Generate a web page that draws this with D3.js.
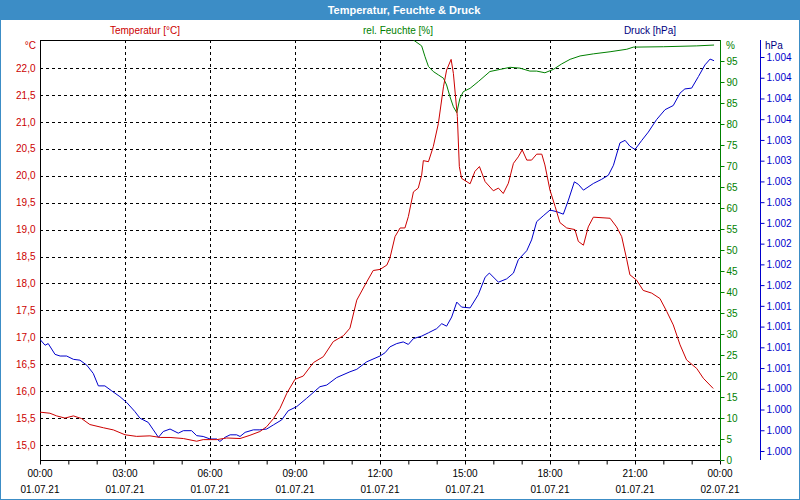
<html>
<head>
<meta charset="utf-8">
<script src="https://d3js.org/d3.v7.min.js"></script>
<style>
  body { margin: 0; background: #fff; }
  svg text { font-family: "Liberation Sans", Arial, sans-serif; font-size: 10px; }
</style>
</head>
<body>
<svg width="800" height="500"></svg>
<script>
// ---- data (hours since 01.07.21 00:00) ----
var tempHours = [0,0.35,0.59,0.88,1.18,1.47,1.76,2.24,2.59,3.00,3.41,3.88,4.24,4.59,5.06,5.53,5.76,6.24,6.59,7.06,7.41,7.76,8.00,8.24,8.47,8.71,9.00,9.29,9.65,10.00,10.35,10.71,10.94,11.18,11.47,11.76,12.00,
  12.24,12.35,12.53,12.71,12.88,13.00,13.18,13.35,13.47,13.53,13.71,13.88,14.06,14.24,14.35,14.51,14.59,14.73,14.80,14.88,15.18,15.35,15.51,15.71,16.00,16.18,16.35,16.53,16.71,16.88,17.02,17.18,17.35,17.53,17.71,17.82,18.00,18.18,18.35,18.59,18.88,19.00,19.18,19.35,19.53,20.12,20.35,20.53,20.71,20.82,21.06,21.29,21.59,21.88,22.12,22.35,22.59,22.82,23.18,23.41,23.76];
var tempValues = [15.61,15.59,15.54,15.50,15.54,15.49,15.38,15.32,15.28,15.19,15.16,15.17,15.14,15.14,15.12,15.07,15.10,15.10,15.13,15.12,15.18,15.25,15.34,15.49,15.68,15.96,16.22,16.28,16.53,16.64,16.92,17.03,17.17,17.69,17.97,18.24,18.26,
  18.34,18.47,18.87,19.03,19.03,19.24,19.70,19.77,20.01,20.28,20.26,20.54,20.97,21.65,21.96,22.16,21.90,21.10,20.17,19.95,19.85,20.08,20.17,19.89,19.72,19.77,19.67,19.86,20.23,20.35,20.48,20.29,20.29,20.40,20.40,20.20,19.73,19.43,19.13,19.03,19.00,18.78,18.71,19.05,19.23,19.21,19.05,18.87,18.44,18.16,18.06,17.87,17.82,17.72,17.48,17.23,16.86,16.58,16.42,16.24,16.05];

var humHours = [13.18,13.47,13.59,13.71,13.88,14.06,14.24,14.35,14.47,14.59,14.71,14.82,14.94,15.18,15.47,15.88,16.24,16.59,16.94,17.29,17.53,17.82,18.12,18.41,18.71,19.06,19.53,20.12,20.71,20.94,22.00,23.18,23.79];
var humValues = [100.0,98.6,96.0,93.7,92.5,91.7,90.9,89.3,86.5,84.1,82.7,86.1,87.7,88.5,90.1,92.5,93.0,93.5,93.3,92.6,92.6,92.2,93.0,94.3,95.4,96.2,96.7,97.2,97.8,98.3,98.4,98.6,98.8];

var presHours = [0,0.18,0.29,0.53,0.71,0.94,1.18,1.41,1.65,1.88,2.06,2.29,2.53,2.82,3.06,3.35,3.53,3.82,4.00,4.18,4.35,4.59,4.88,5.06,5.35,5.53,5.76,6.00,6.24,6.35,6.53,6.71,6.94,7.06,7.24,7.53,7.76,8.00,8.24,8.53,8.76,9.06,9.41,9.88,10.12,10.47,10.94,11.18,11.53,12.00,
  12.18,12.35,12.59,12.82,13.00,13.18,13.47,13.71,14.00,14.18,14.35,14.53,14.71,14.88,15.18,15.47,15.71,15.86,16.18,16.47,16.71,16.88,17.18,17.35,17.53,17.76,18.00,18.24,18.47,18.65,18.86,19.00,19.18,19.53,19.82,20.06,20.24,20.47,20.65,20.82,21.00,21.24,21.47,21.76,22.06,22.35,22.59,22.76,23.00,23.24,23.47,23.65,23.79];
var presValues = [1000.97,1000.90,1000.92,1000.79,1000.77,1000.77,1000.73,1000.72,1000.66,1000.56,1000.41,1000.41,1000.35,1000.28,1000.21,1000.10,1000.02,999.97,999.88,999.79,999.86,999.89,999.84,999.87,999.87,999.81,999.80,999.77,999.77,999.74,999.79,999.82,999.82,999.80,999.85,999.88,999.88,999.89,999.94,1000.00,1000.11,1000.16,1000.26,1000.40,1000.42,1000.51,1000.58,1000.61,1000.70,1000.77,
  1000.81,1000.88,1000.92,1000.94,1000.91,1000.98,1001.01,1001.05,1001.10,1001.16,1001.13,1001.24,1001.42,1001.36,1001.35,1001.51,1001.72,1001.77,1001.66,1001.70,1001.77,1001.93,1002.04,1002.17,1002.39,1002.46,1002.53,1002.51,1002.48,1002.65,1002.87,1002.84,1002.77,1002.85,1002.90,1002.95,1003.07,1003.34,1003.37,1003.30,1003.26,1003.37,1003.47,1003.62,1003.74,1003.79,1003.94,1003.99,1004.00,1004.14,1004.28,1004.35,1004.33];

var tempTicks = d3.range(15, 22.01, 0.5);
var humTicks = d3.range(0, 96, 5);
var presTicks = d3.range(20).map(function(i){ return 999.625 + i * 0.25; });
var timeTicks = [0,3,6,9,12,15,18,21,24];
var timeLabels = ["00:00","03:00","06:00","09:00","12:00","15:00","18:00","21:00","00:00"];
var dateLabels = ["01.07.21","01.07.21","01.07.21","01.07.21","01.07.21","01.07.21","01.07.21","01.07.21","02.07.21"];

var RED = "#cc0000", GREEN = "#008000", BLUE = "#0000cc";
var de = d3.formatLocale({decimal: ",", thousands: ".", grouping: [3], currency: ["", "€"]});
var fmtT = de.format(".1f"), fmtP = de.format(",d");

var svg = d3.select("svg");
var L = 40, R = 720, T = 40, B = 460;

// frame + title bar
svg.append("rect").attr("x", 0.5).attr("y", 0.5).attr("width", 799).attr("height", 499)
  .attr("fill", "#fff").attr("stroke", "#3c8dc6");
svg.append("rect").attr("x", 0).attr("y", 0).attr("width", 800).attr("height", 20).attr("fill", "#3c8dc6");
svg.append("text").attr("x", 404).attr("y", 14).attr("text-anchor", "middle")
  .attr("fill", "#fff").style("font-weight", "bold").style("font-size", "11px")
  .text("Temperatur, Feuchte & Druck");

var x = d3.scaleLinear().domain([0, 24]).range([L, R]);
var yT = d3.scaleLinear().domain([15, 22]).range([445, 68]);
var yH = d3.scaleLinear().domain([0, 100]).range([B, T]);
var yP = d3.scaleLinear().domain([999.625, 1004.375]).range([451, 57]);

// series titles
svg.append("text").attr("x", 145).attr("y", 34).attr("text-anchor", "middle").attr("fill", RED).text("Temperatur [°C]");
svg.append("text").attr("x", 398).attr("y", 34).attr("text-anchor", "middle").attr("fill", GREEN).text("rel. Feuchte [%]");
svg.append("text").attr("x", 650).attr("y", 34).attr("text-anchor", "middle").attr("fill", "#000080").text("Druck [hPa]");

// grid
var grid = svg.append("g").attr("stroke", "#000").attr("stroke-dasharray", "3,3").attr("shape-rendering", "crispEdges");
grid.selectAll(".h").data(tempTicks).enter().append("line")
  .attr("x1", L).attr("x2", R).attr("y1", function(d){ return Math.round(yT(d)) + 0.5; }).attr("y2", function(d){ return Math.round(yT(d)) + 0.5; });
grid.selectAll(".v").data(timeTicks.slice(1, -1)).enter().append("line")
  .attr("y1", T).attr("y2", B).attr("x1", function(d){ return Math.round(x(d)) + 0.5; }).attr("x2", function(d){ return Math.round(x(d)) + 0.5; });

// plot frame lines
svg.append("line").attr("x1", L).attr("x2", R).attr("y1", T + 0.5).attr("y2", T + 0.5).attr("stroke", "#000");

// left temperature axis
var gT = svg.append("g").attr("transform", "translate(" + (L + 0.5) + ",0)")
  .call(d3.axisLeft(yT).tickValues(tempTicks).tickFormat(fmtT).tickSize(0).tickPadding(5));
gT.select(".domain").remove();
gT.selectAll("text").attr("fill", RED).style("font-size", "10px");
svg.append("line").attr("x1", L + 0.5).attr("x2", L + 0.5).attr("y1", T).attr("y2", B).attr("stroke", "#000");
svg.append("text").attr("x", 36).attr("y", 49).attr("text-anchor", "end").attr("fill", RED).text("°C");

// humidity axis
var gH = svg.append("g").attr("transform", "translate(" + (R + 0.5) + ",0)")
  .call(d3.axisRight(yH).tickValues(humTicks).tickSize(4).tickPadding(2).tickSizeOuter(0));
gH.select(".domain").attr("stroke", GREEN).attr("d", "M0," + T + "V" + B);
gH.selectAll(".tick line").attr("stroke", GREEN);
gH.selectAll("text").attr("fill", GREEN).style("font-size", "10px");
svg.append("text").attr("x", 726).attr("y", 49).attr("fill", GREEN).text("%");

// pressure axis
var gP = svg.append("g").attr("transform", "translate(760.5,0)")
  .call(d3.axisRight(yP).tickValues(presTicks).tickFormat(function(d){ return fmtP(Math.round(d)); }).tickSize(4).tickPadding(2).tickSizeOuter(0));
gP.select(".domain").attr("stroke", BLUE).attr("d", "M0," + T + "V" + B);
gP.selectAll(".tick line").attr("stroke", BLUE);
gP.selectAll("text").attr("fill", BLUE).style("font-size", "10px");
svg.append("text").attr("x", 765).attr("y", 49).attr("fill", "#000080").text("hPa");

// time axis
var gX = svg.append("g").attr("transform", "translate(0," + (B + 0.5) + ")")
  .call(d3.axisBottom(x).tickValues(d3.range(0, 25)).tickSize(4).tickFormat("").tickSizeOuter(0));
gX.select(".domain").attr("d", "M" + L + ",0H" + R);
var xl = svg.append("g").attr("fill", "#000");
xl.selectAll(".t").data(timeTicks).enter().append("text")
  .attr("x", function(d){ return x(d); }).attr("y", 477).attr("text-anchor", "middle")
  .text(function(d, i){ return timeLabels[i]; });
xl.selectAll(".d").data(timeTicks).enter().append("text")
  .attr("x", function(d){ return x(d); }).attr("y", 493).attr("text-anchor", "middle")
  .text(function(d, i){ return dateLabels[i]; });

// lines
svg.append("clipPath").attr("id", "clip").append("rect").attr("x", L).attr("y", T).attr("width", R - L).attr("height", B - T);
var plot = svg.append("g").attr("clip-path", "url(#clip)").attr("fill", "none").attr("stroke-width", 1);

plot.append("path").datum(d3.zip(presHours, presValues)).attr("stroke", BLUE)
  .attr("d", d3.line().x(function(d){ return x(d[0]); }).y(function(d){ return yP(d[1]); }));
plot.append("path").datum(d3.zip(humHours, humValues)).attr("stroke", GREEN)
  .attr("d", d3.line().x(function(d){ return x(d[0]); }).y(function(d){ return yH(d[1]); }));
plot.append("path").datum(d3.zip(tempHours, tempValues)).attr("stroke", RED)
  .attr("d", d3.line().x(function(d){ return x(d[0]); }).y(function(d){ return yT(d[1]); }));
</script>
</body>
</html>
